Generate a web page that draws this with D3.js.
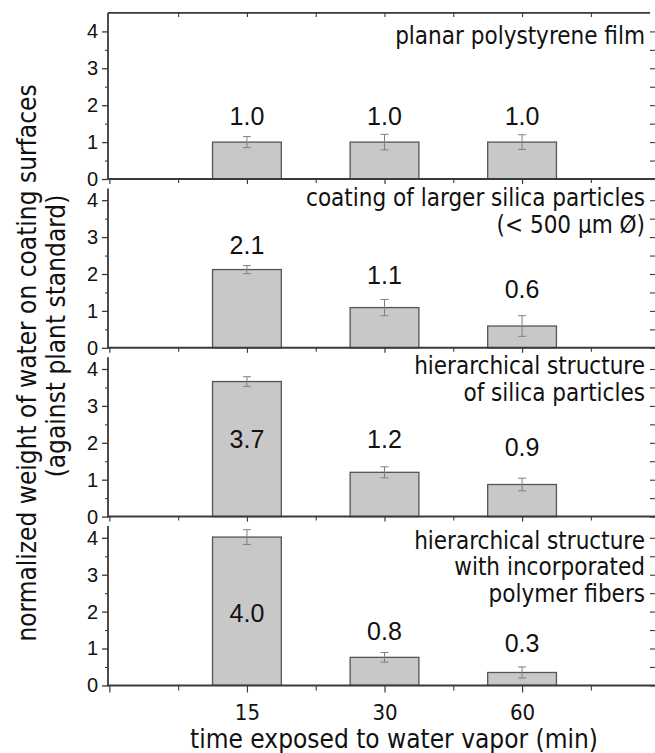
<!DOCTYPE html>
<html>
<head>
<meta charset="utf-8">
<script src="https://cdn.jsdelivr.net/npm/d3@7/dist/d3.min.js"></script>
<style>
  body { margin: 0; background: #fff; }
  .num { font-family: "Liberation Sans", Arial, sans-serif; fill: #111; }
  .note { font-family: "DejaVu Sans Condensed", "DejaVu Sans", sans-serif; font-stretch: condensed; fill: #111; }
</style>
</head>
<body>
<svg id="chart"></svg>
<script>
// times on the x axis (min)
const times = ["15", "30", "60"];

// one entry per panel, top to bottom
const panelNotes = [
  ["planar polystyrene film"],
  ["coating of larger silica particles", "(< 500 \u00b5m \u00d8)"],
  ["hierarchical structure", "of silica particles"],
  ["hierarchical structure", "with incorporated", "polymer fibers"]
];
const filmValues = [1.0, 1.0, 1.0];
const filmErrors = [0.15, 0.21, 0.2];
const largeSilicaValues = [2.12, 1.09, 0.59];
const largeSilicaErrors = [0.11, 0.22, 0.28];
const hierSilicaValues = [3.66, 1.2, 0.87];
const hierSilicaErrors = [0.13, 0.15, 0.17];
const hierFiberValues = [4.02, 0.76, 0.35];
const hierFiberErrors = [0.2, 0.13, 0.15];
const valueLabels = [
  ["1.0", "1.0", "1.0"],
  ["2.1", "1.1", "0.6"],
  ["3.7", "1.2", "0.9"],
  ["4.0", "0.8", "0.3"]
];
const yTicks = [0, 1, 2, 3, 4];

const panels = [
  {values: filmValues, errors: filmErrors},
  {values: largeSilicaValues, errors: largeSilicaErrors},
  {values: hierSilicaValues, errors: hierSilicaErrors},
  {values: hierFiberValues, errors: hierFiberErrors}
];

// layout (data units of each panel's y scale)
const labelBase = [[1.46, 1.46, 1.46], [2.55, 1.73, 1.34], [1.85, 1.85, 1.63], [1.73, 1.23, 0.9]];
const noteBase = [3.65, 3.84, 3.86, 3.71];

const width = 655, height = 753;
const firstZero = 179, panelStep = 168.8, unit = 36.9;
const left = 108, right = 650;

const svg = d3.select("#chart").attr("width", width).attr("height", height);

let x = d3.scaleLinear().domain([-0.01, 3.93]).range([left, right]);
const barW = x(0.5) - x(0);
const axisColor = "#3a3a3a";
const numFont = "'Liberation Sans', Arial, sans-serif";

panels.forEach(function(p, i) {
  const zero = firstZero + i * panelStep;
  let y = d3.scaleLinear().domain([0, 4.5]).range([zero, zero - 4.5 * unit]);
  const g = svg.append("g");

  // bars
  g.selectAll(".bar").data(p.values).enter().append("rect")
    .attr("x", (d, j) => x(j + 1) - barW / 2)
    .attr("y", d => y(d))
    .attr("width", barW)
    .attr("height", d => y(0) - y(d))
    .attr("fill", "#c8c8c8")
    .attr("stroke", "#555")
    .attr("stroke-width", 1.3);

  // error bars
  const eb = g.selectAll(".err").data(p.values).enter().append("g")
    .attr("stroke", "#808080").attr("stroke-width", 1);
  eb.append("line")
    .attr("x1", (d, j) => x(j + 1)).attr("x2", (d, j) => x(j + 1))
    .attr("y1", (d, j) => y(d + p.errors[j])).attr("y2", (d, j) => y(d - p.errors[j]));
  eb.append("line")
    .attr("x1", (d, j) => x(j + 1) - 4).attr("x2", (d, j) => x(j + 1) + 4)
    .attr("y1", (d, j) => y(d + p.errors[j])).attr("y2", (d, j) => y(d + p.errors[j]));
  eb.append("line")
    .attr("x1", (d, j) => x(j + 1) - 4).attr("x2", (d, j) => x(j + 1) + 4)
    .attr("y1", (d, j) => y(d - p.errors[j])).attr("y2", (d, j) => y(d - p.errors[j]));

  // value labels
  g.selectAll(".val").data(valueLabels[i]).enter().append("text")
    .attr("class", "num")
    .attr("x", (d, j) => x(j + 1))
    .attr("y", (d, j) => y(labelBase[i][j]))
    .attr("text-anchor", "middle")
    .style("font-size", "25px")
    .text(d => d);

  // panel description
  g.append("text").attr("class", "note")
    .attr("text-anchor", "end")
    .style("font-size", "24px")
    .selectAll("tspan").data(panelNotes[i]).enter().append("tspan")
    .attr("x", 645)
    .attr("y", (d, k) => y(noteBase[i]) + k * 26.5)
    .text(d => d);

  // left axis
  const topVal = i === 0 ? 4.5 : 4.32;
  g.append("line").attr("x1", left).attr("x2", left)
    .attr("y1", y(topVal)).attr("y2", y(0) + 1)
    .attr("stroke", axisColor).attr("stroke-width", 1.8);
  g.append("g").attr("transform", "translate(" + left + ",0)")
    .call(d3.axisLeft(y).tickValues(yTicks).tickSize(6).tickPadding(4).tickFormat(d3.format("d")))
    .call(a => a.select(".domain").remove())
    .call(a => a.selectAll("line").attr("stroke", axisColor).attr("stroke-width", 1.3))
    .call(a => a.selectAll("text").attr("fill", "#111")
      .style("font-size", "20px").style("font-family", numFont));
  g.append("g").attr("transform", "translate(" + left + ",0)")
    .call(d3.axisLeft(y).tickValues([0.5, 1.5, 2.5, 3.5]).tickSize(3).tickFormat(""))
    .call(a => a.select(".domain").remove())
    .call(a => a.selectAll("line").attr("stroke", axisColor).attr("stroke-width", 1.1));

  // right ticks (no line)
  g.append("g").attr("transform", "translate(" + right + ",0)")
    .call(d3.axisRight(y).tickValues(d3.range(0, 4.01, 0.5)).tickSize(5).tickFormat(""))
    .call(a => a.select(".domain").remove())
    .call(a => a.selectAll("line").attr("stroke", axisColor).attr("stroke-width", 1.1));

  // bottom axis
  g.append("line").attr("x1", left).attr("x2", width)
    .attr("y1", y(0)).attr("y2", y(0))
    .attr("stroke", axisColor).attr("stroke-width", 2);
  const last = i === panels.length - 1;
  g.append("g").attr("transform", "translate(0," + y(0) + ")")
    .call(d3.axisBottom(x).tickValues([0, 1, 2, 3]).tickSize(last ? 7 : 5).tickPadding(12)
      .tickFormat(d => (last && d >= 1) ? times[d - 1] : ""))
    .call(a => a.select(".domain").remove())
    .call(a => a.selectAll("line").attr("stroke", axisColor).attr("stroke-width", 1.2))
    .call(a => a.selectAll("text").attr("fill", "#111")
      .style("font-size", "22px").style("font-family", "'DejaVu Sans Condensed', 'DejaVu Sans', sans-serif"));
  g.append("g").attr("transform", "translate(0," + y(0) + ")")
    .call(d3.axisBottom(x).tickValues([0.5, 1.5, 2.5, 3.5]).tickSize(last ? 5 : 4).tickFormat(""))
    .call(a => a.select(".domain").remove())
    .call(a => a.selectAll("line").attr("stroke", axisColor).attr("stroke-width", 1.1));

  // top frame only on the first panel
  if (i === 0) {
    g.append("line").attr("x1", left).attr("x2", right)
      .attr("y1", y(4.5)).attr("y2", y(4.5))
      .attr("stroke", axisColor).attr("stroke-width", 1.8);
    g.append("g").attr("transform", "translate(0," + y(4.5) + ")")
      .call(d3.axisTop(x).tickValues(d3.range(0.5, 3.9, 0.5)).tickSize(-4).tickFormat(""))
      .call(a => a.select(".domain").remove())
      .call(a => a.selectAll("line").attr("stroke", axisColor).attr("stroke-width", 1.1));
  }
});

// axis titles
svg.append("text").attr("class", "note")
  .attr("text-anchor", "middle")
  .attr("transform", "translate(36,363) rotate(-90)")
  .style("font-size", "26px")
  .text("normalized weight of water on coating surfaces");
svg.append("text").attr("class", "note")
  .attr("text-anchor", "middle")
  .attr("transform", "translate(65,336) rotate(-90)")
  .style("font-size", "26px")
  .text("(against plant standard)");
svg.append("text").attr("class", "note")
  .attr("text-anchor", "middle")
  .attr("x", 394).attr("y", 748)
  .style("font-size", "26px")
  .text("time exposed to water vapor (min)");
</script>
</body>
</html>
